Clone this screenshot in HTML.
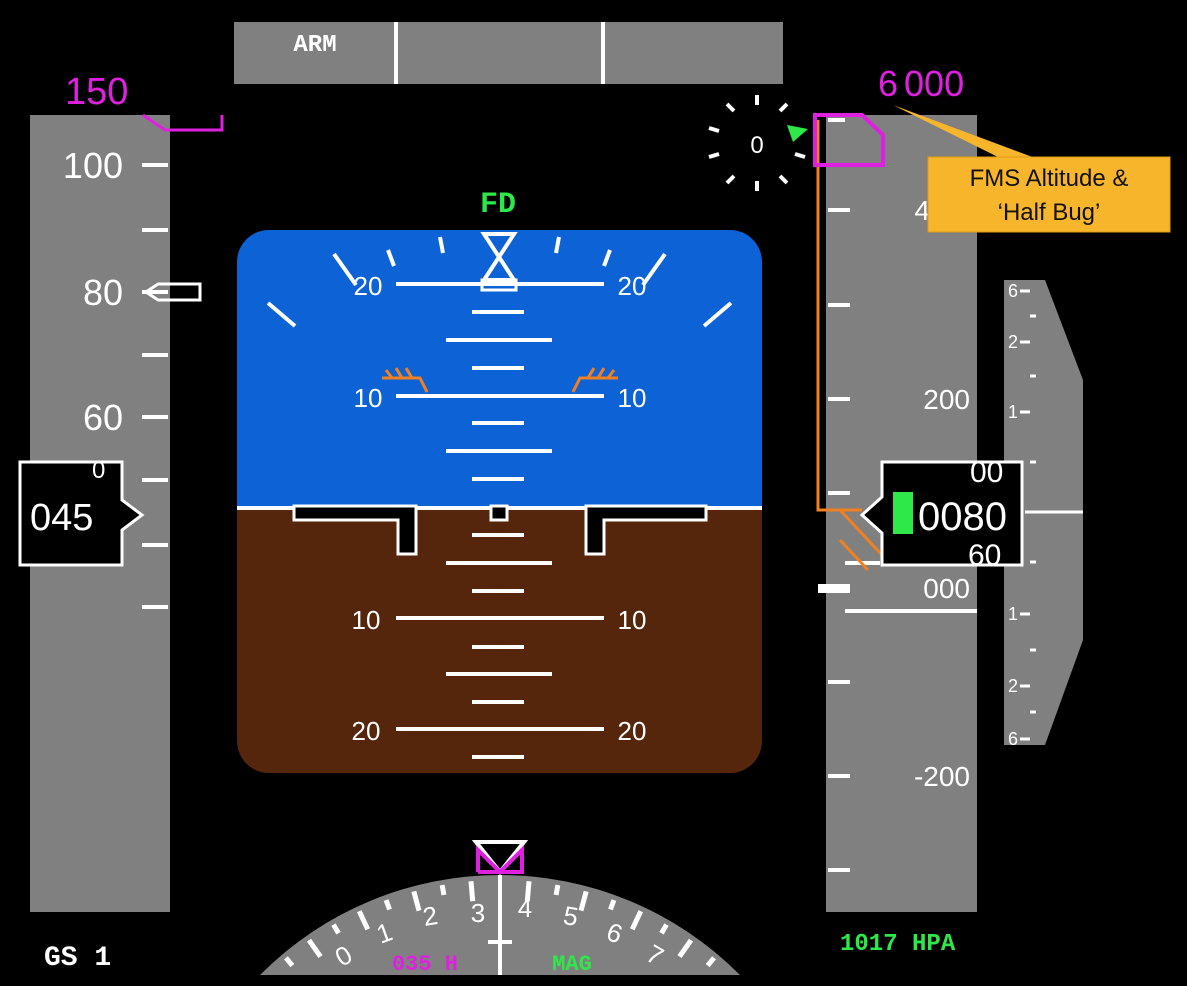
<!DOCTYPE html><html><head><style>html,body{margin:0;padding:0;background:#000;width:1187px;height:986px;overflow:hidden;}svg{display:block}</style></head><body>
<svg width="1187" height="986" viewBox="0 0 1187 986" xmlns="http://www.w3.org/2000/svg" font-family="Liberation Sans, sans-serif">
<rect width="1187" height="986" fill="#000"/>
<rect x="234" y="22" width="549" height="62" fill="#808080"/>
<line x1="396" y1="22" x2="396" y2="84" stroke="#fff" stroke-width="4"/>
<line x1="603" y1="22" x2="603" y2="84" stroke="#fff" stroke-width="4"/>
<text x="315" y="51" fill="#fff" font-size="24" font-weight="bold" text-anchor="middle" font-family="Liberation Mono, monospace">ARM</text>
<rect x="30" y="115" width="140" height="797" fill="#808080"/>
<g stroke="#fff" stroke-width="4">
<line x1="142" y1="165" x2="168" y2="165"/><line x1="142" y1="230" x2="168" y2="230"/><line x1="142" y1="292" x2="168" y2="292"/><line x1="142" y1="355" x2="168" y2="355"/><line x1="142" y1="417" x2="168" y2="417"/><line x1="142" y1="480" x2="168" y2="480"/><line x1="142" y1="545" x2="168" y2="545"/><line x1="142" y1="607" x2="168" y2="607"/>
</g>
<g fill="#fff" font-size="36" text-anchor="end">
<text x="123" y="178">100</text><text x="123" y="305">80</text><text x="123" y="430">60</text>
</g>
<polygon points="146,292 158,284 200,284 200,300 158,300" fill="none" stroke="#fff" stroke-width="3"/>
<text x="65" y="104" fill="#e020e0" font-size="38">150</text>
<polyline points="143,115 165,130 222,130 222,115" fill="none" stroke="#e020e0" stroke-width="3"/>
<polygon points="20,462 122,462 122,500 142,515 122,530 122,565 20,565" fill="#000" stroke="#fff" stroke-width="3"/>
<text x="30" y="530" fill="#fff" font-size="38">045</text>
<text x="92" y="478" fill="#fff" font-size="24">0</text>
<defs><clipPath id="adi"><rect x="237" y="230" width="525" height="543" rx="32"/></clipPath></defs>
<g clip-path="url(#adi)">
<rect x="237" y="230" width="525" height="278" fill="#0d62d6"/>
<rect x="237" y="508" width="525" height="270" fill="#55260c"/>
</g>
<line x1="237" y1="508" x2="762" y2="508" stroke="#fff" stroke-width="4"/>
<g stroke="#fff" stroke-width="4">
<line x1="396" y1="284" x2="604" y2="284"/><line x1="396" y1="396" x2="604" y2="396"/>
<line x1="472" y1="312" x2="524" y2="312"/><line x1="446" y1="340" x2="552" y2="340"/><line x1="472" y1="368" x2="524" y2="368"/>
<line x1="472" y1="423" x2="524" y2="423"/><line x1="446" y1="451" x2="552" y2="451"/><line x1="472" y1="479" x2="524" y2="479"/>
<line x1="472" y1="535" x2="524" y2="535"/><line x1="446" y1="563" x2="552" y2="563"/><line x1="472" y1="591" x2="524" y2="591"/>
<line x1="396" y1="618" x2="604" y2="618"/>
<line x1="472" y1="647" x2="524" y2="647"/><line x1="446" y1="674" x2="552" y2="674"/><line x1="472" y1="702" x2="524" y2="702"/>
<line x1="396" y1="729" x2="604" y2="729"/><line x1="472" y1="757" x2="524" y2="757"/>
<line x1="268" y1="303" x2="295" y2="326"/><line x1="731" y1="303" x2="704" y2="326"/>
<line x1="334" y1="254" x2="356" y2="285"/><line x1="665" y1="254" x2="643" y2="285"/>
<line x1="388" y1="250" x2="394" y2="266"/><line x1="610" y1="250" x2="604" y2="266"/>
<line x1="440" y1="237" x2="443" y2="253"/><line x1="559" y1="237" x2="556" y2="253"/>
</g>
<g fill="#fff" font-size="26" text-anchor="middle">
<text x="368" y="295">20</text><text x="632" y="295">20</text>
<text x="368" y="407">10</text><text x="632" y="407">10</text>
<text x="366" y="629">10</text><text x="632" y="629">10</text>
<text x="366" y="740">20</text><text x="632" y="740">20</text>
</g>
<polygon points="484,234 514,234 484,280 514,280" fill="none" stroke="#fff" stroke-width="4"/>
<rect x="482" y="280" width="34" height="10" fill="none" stroke="#fff" stroke-width="3"/>
<g stroke="#f08020" stroke-width="3" fill="none">
<polyline points="382,378 420,378 427,392"/><line x1="392" y1="378" x2="386" y2="370"/><line x1="402" y1="378" x2="396" y2="368"/><line x1="412" y1="378" x2="406" y2="368"/>
<polyline points="618,378 580,378 573,392"/><line x1="608" y1="378" x2="614" y2="370"/><line x1="598" y1="378" x2="604" y2="368"/><line x1="588" y1="378" x2="594" y2="368"/>
</g>
<g fill="#000" stroke="#fff" stroke-width="3">
<polygon points="294,506 416,506 416,554 398,554 398,520 294,520"/>
<polygon points="706,506 586,506 586,554 604,554 604,520 706,520"/>
<rect x="491" y="506" width="16" height="14"/>
</g>
<text x="498" y="212" fill="#2ee84a" font-size="30" font-weight="bold" text-anchor="middle" font-family="Liberation Mono, monospace">FD</text>
<g stroke="#fff" stroke-width="4">
<line x1="757" y1="95" x2="757" y2="105"/><line x1="757" y1="181" x2="757" y2="191"/>
<line x1="709" y1="128" x2="719" y2="131"/><line x1="709" y1="157" x2="719" y2="154"/>
<line x1="795" y1="154" x2="805" y2="157"/>
<line x1="727" y1="104" x2="734" y2="111"/><line x1="787" y1="104" x2="780" y2="111"/>
<line x1="727" y1="183" x2="734" y2="176"/><line x1="787" y1="183" x2="780" y2="176"/>
</g>
<text x="757" y="153" fill="#fff" font-size="24" text-anchor="middle">0</text>
<polygon points="787,125 808,129 793,142" fill="#2ee84a"/>
<rect x="826" y="115" width="151" height="797" fill="#808080"/>
<g stroke="#fff" stroke-width="4">
<line x1="828" y1="210" x2="850" y2="210"/><line x1="828" y1="305" x2="850" y2="305"/><line x1="828" y1="399" x2="850" y2="399"/><line x1="828" y1="493" x2="850" y2="493"/><line x1="845" y1="563" x2="880" y2="563"/><line x1="828" y1="682" x2="850" y2="682"/><line x1="828" y1="776" x2="850" y2="776"/><line x1="828" y1="870" x2="850" y2="870"/>
<line x1="845" y1="611" x2="977" y2="611"/><line x1="828" y1="120" x2="845" y2="120"/>
</g>
<rect x="818" y="584" width="32" height="9" fill="#fff"/>
<g fill="#fff" font-size="28" text-anchor="end">
<text x="970" y="409">200</text><text x="970" y="598">000</text><text x="970" y="786">-200</text><text x="930" y="220">4</text>
</g>
<polygon points="1004,280 1045,280 1083,380 1083,640 1045,745 1004,745" fill="#808080"/>
<line x1="1025" y1="512" x2="1083" y2="512" stroke="#fff" stroke-width="3"/>
<g fill="#fff" font-size="18">
<text x="1008" y="297">6</text><text x="1008" y="348">2</text><text x="1008" y="418">1</text><text x="1008" y="620">1</text><text x="1008" y="692">2</text><text x="1008" y="745">6</text>
</g>
<g stroke="#fff" stroke-width="3">
<line x1="1020" y1="291" x2="1030" y2="291"/><line x1="1020" y1="342" x2="1030" y2="342"/><line x1="1020" y1="412" x2="1030" y2="412"/><line x1="1020" y1="614" x2="1030" y2="614"/><line x1="1020" y1="686" x2="1030" y2="686"/><line x1="1020" y1="739" x2="1030" y2="739"/>
<line x1="1030" y1="316" x2="1036" y2="316"/><line x1="1030" y1="376" x2="1036" y2="376"/><line x1="1030" y1="462" x2="1036" y2="462"/><line x1="1030" y1="562" x2="1036" y2="562"/><line x1="1030" y1="650" x2="1036" y2="650"/><line x1="1030" y1="712" x2="1036" y2="712"/>
</g>
<g stroke="#f08020" stroke-width="3" fill="none">
<polyline points="818,120 818,510 862,510"/>
<line x1="840" y1="510" x2="882" y2="555"/><line x1="840" y1="540" x2="868" y2="570"/>
</g>
<polygon points="882,462 1022,462 1022,565 882,565 882,533 862,515 882,497" fill="#000" stroke="#fff" stroke-width="3"/>
<rect x="893" y="492" width="20" height="42" fill="#2ee84a"/>
<text x="918" y="530" fill="#fff" font-size="40">0080</text>
<text x="970" y="482" fill="#fff" font-size="30">00</text>
<text x="968" y="565" fill="#fff" font-size="30">60</text>
<polygon points="815,115 862,115 883,135 883,165 815,165" fill="none" stroke="#e020e0" stroke-width="4"/>
<text x="878" y="96" fill="#e020e0" font-size="36">6<tspan dx="6">000</tspan></text>
<polygon points="893,105 1000,158 1035,158" fill="#f7b52c"/>
<rect x="928" y="157" width="242" height="75" fill="#f7b52c" stroke="#e09a10" stroke-width="1"/>
<text x="1049" y="186" fill="#111" font-size="24" text-anchor="middle">FMS Altitude &amp;</text>
<text x="1049" y="220" fill="#111" font-size="24" text-anchor="middle">‘Half Bug’</text>
<defs><clipPath id="cmp"><rect x="0" y="0" width="1187" height="975"/></clipPath></defs>
<g clip-path="url(#cmp)">
<circle cx="500" cy="1213" r="338" fill="#808080"/>
<g stroke="#fff" stroke-width="5">
<g transform="rotate(-45 500 1213)"><line x1="500" y1="880" x2="500" y2="900"/></g>
<g transform="rotate(-40 500 1213)"><line x1="500" y1="880" x2="500" y2="890"/></g>
<g transform="rotate(-35 500 1213)"><line x1="500" y1="880" x2="500" y2="900"/></g>
<g transform="rotate(-30 500 1213)"><line x1="500" y1="880" x2="500" y2="890"/></g>
<g transform="rotate(-25 500 1213)"><line x1="500" y1="880" x2="500" y2="900"/></g>
<g transform="rotate(-20 500 1213)"><line x1="500" y1="880" x2="500" y2="890"/></g>
<g transform="rotate(-15 500 1213)"><line x1="500" y1="880" x2="500" y2="900"/></g>
<g transform="rotate(-10 500 1213)"><line x1="500" y1="880" x2="500" y2="890"/></g>
<g transform="rotate(-5 500 1213)"><line x1="500" y1="880" x2="500" y2="900"/></g>
<g transform="rotate(5 500 1213)"><line x1="500" y1="880" x2="500" y2="900"/></g>
<g transform="rotate(10 500 1213)"><line x1="500" y1="880" x2="500" y2="890"/></g>
<g transform="rotate(15 500 1213)"><line x1="500" y1="880" x2="500" y2="900"/></g>
<g transform="rotate(20 500 1213)"><line x1="500" y1="880" x2="500" y2="890"/></g>
<g transform="rotate(25 500 1213)"><line x1="500" y1="880" x2="500" y2="900"/></g>
<g transform="rotate(30 500 1213)"><line x1="500" y1="880" x2="500" y2="890"/></g>
<g transform="rotate(35 500 1213)"><line x1="500" y1="880" x2="500" y2="900"/></g>
<g transform="rotate(40 500 1213)"><line x1="500" y1="880" x2="500" y2="890"/></g>
<g transform="rotate(45 500 1213)"><line x1="500" y1="880" x2="500" y2="900"/></g>
</g>
<g fill="#fff" font-size="26" text-anchor="middle">
<text x="478" y="922">3</text><text x="525" y="917">4</text><text x="571" y="925" transform="rotate(10 571 915)">5</text><text x="615" y="942" transform="rotate(20 615 932)">6</text><text x="655" y="964" transform="rotate(30 655 955)">7</text>
<text x="430" y="925" transform="rotate(-10 430 915)">2</text><text x="384" y="942" transform="rotate(-20 384 932)">1</text><text x="343" y="965" transform="rotate(-30 343 955)">0</text>
</g>
<line x1="500" y1="875" x2="500" y2="975" stroke="#fff" stroke-width="4"/>
<line x1="488" y1="942" x2="512" y2="942" stroke="#fff" stroke-width="4"/>
<text x="425" y="970" fill="#e020e0" font-size="22" font-weight="bold" text-anchor="middle" font-family="Liberation Mono, monospace">035 H</text>
<text x="572" y="970" fill="#2ee84a" font-size="22" font-weight="bold" text-anchor="middle" font-family="Liberation Mono, monospace">MAG</text>
</g>
<polygon points="476,842 524,842 500,872" fill="none" stroke="#fff" stroke-width="4"/>
<polyline points="478,872 478,850 500,872 522,850 522,872 478,872" fill="none" stroke="#e020e0" stroke-width="4"/>
<text x="44" y="965" fill="#fff" font-size="28" font-weight="bold" font-family="Liberation Mono, monospace">GS 1</text>
<text x="840" y="950" fill="#2ee84a" font-size="24" font-weight="bold" font-family="Liberation Mono, monospace">1017 HPA</text>
</svg>
</body></html>
